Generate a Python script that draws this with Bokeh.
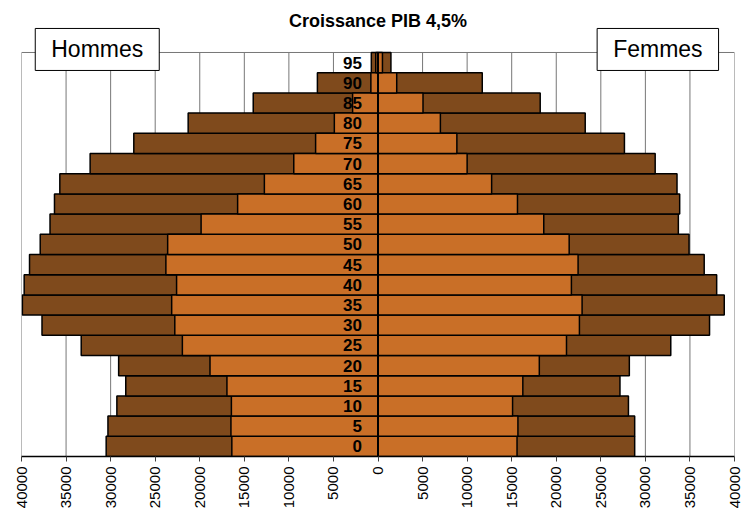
import math
from bokeh.plotting import figure
from bokeh.models import (ColumnDataSource, FixedTicker, CustomJSTickFormatter,
                          Range1d, Label)
from bokeh.core.properties import value
from bokeh.embed import file_html
from bokeh.resources import INLINE

# ---- data ----
ages = [0, 5, 10, 15, 20, 25, 30, 35, 40, 45, 50, 55, 60, 65, 70, 75, 80, 85, 90, 95]
age_labels = [str(a) for a in ages]
hommes_total = [30500, 30300, 29300, 28300, 29100, 33300, 37700, 39900, 39700, 39100,
                37900, 36800, 36300, 35700, 32300, 27400, 21300, 14000, 6800, 750]
hommes_base = [16400, 16500, 16450, 16950, 18850, 21950, 22800, 23150, 22600, 23800,
               23600, 19850, 15750, 12750, 9450, 7000, 4900, 2850, 800, 250]
femmes_total = [28800, 28800, 28100, 27150, 28200, 32850, 37200, 38850, 38000, 36600,
                34900, 33700, 33850, 33550, 31100, 27650, 23250, 18200, 11700, 1450]
femmes_base = [15600, 15700, 15100, 16250, 18100, 21150, 22600, 22900, 21700, 22450,
               21450, 18600, 15650, 12750, 10000, 8850, 7000, 5050, 2100, 500]
x_ticks = list(range(-40000, 40001, 5000))
title_text = "Croissance PIB 4,5%"
left_name = "Hommes"
right_name = "Femmes"

DARK = "#7F4A1C"
ORANGE = "#C96F27"
GRID = "#777777"
FONT = "Liberation Sans"

Y_LO, Y_HI = -2.5, 97.5          # extent of the age bands
TOP_PAD = 11.63                   # room above the bands for title and name boxes

src = ColumnDataSource(dict(
    age=ages, label=age_labels,
    h_tot=[-v for v in hommes_total], h_base=[-v for v in hommes_base],
    f_tot=femmes_total, f_base=femmes_base,
    zero=[0] * len(ages), lab_x=[-1800] * len(ages),
))
grid_src = ColumnDataSource(dict(x=x_ticks, y0=[Y_LO] * len(x_ticks),
                                 y1=[Y_HI] * len(x_ticks)))

p = figure(width=743, height=512, output_backend="svg", toolbar_location=None,
           x_range=Range1d(-40000, 40000), y_range=Range1d(Y_LO, Y_HI + TOP_PAD),
           y_axis_location=None, min_border_left=21, min_border_right=9,
           min_border_top=5, min_border_bottom=56)
p.background_fill_color = "white"
p.border_fill_color = "white"
p.outline_line_color = None
p.xgrid.grid_line_color = None
p.ygrid.grid_line_color = None

ticker = FixedTicker(ticks=x_ticks)
p.xaxis.ticker = ticker
p.xaxis.formatter = CustomJSTickFormatter(code="return Math.abs(tick).toString();")
p.xaxis.major_label_orientation = math.pi / 2
p.xaxis.major_label_text_font = FONT
p.xaxis.major_label_text_font_size = "15px"
p.xaxis.major_label_text_color = "black"
p.xaxis.major_label_standoff = 5
p.xaxis.major_tick_out = 5
p.xaxis.major_tick_in = 0
p.xaxis.major_tick_line_color = "#404040"
p.xaxis.minor_tick_line_color = None
p.xaxis.axis_line_color = "black"
p.xaxis.axis_line_width = 1.5

# vertical grid lines (the outer two form the frame) and top frame line
p.segment(x0="x", y0="y0", x1="x", y1="y1", source=grid_src,
          line_color=GRID, line_width=1)
p.segment(x0=[x_ticks[0]], y0=[Y_HI], x1=[x_ticks[-1]], y1=[Y_HI],
          line_color=GRID, line_width=1)

# bars
p.hbar(y="age", left="h_tot", right="zero", height=5, source=src,
       fill_color=DARK, line_color="black", line_width=1.5)
p.hbar(y="age", left="zero", right="f_tot", height=5, source=src,
       fill_color=DARK, line_color="black", line_width=1.5)
p.hbar(y="age", left="h_base", right="zero", height=5, source=src,
       fill_color=ORANGE, line_color="black", line_width=1.5)
p.hbar(y="age", left="zero", right="f_base", height=5, source=src,
       fill_color=ORANGE, line_color="black", line_width=1.5)

# zero line
p.segment(x0=[0], y0=[Y_LO], x1=[0], y1=[Y_HI], line_color="black", line_width=2)

p.text(x="lab_x", y="age", text="label", source=src, text_align="right",
       text_baseline="middle", text_font=value(FONT), text_font_size="17px",
       text_font_style="bold", text_color="black")

# title and side names
p.add_layout(Label(x=0, y=105.3, text=title_text, text_align="center",
                   text_baseline="middle", text_font=FONT, text_font_size="18px",
                   text_font_style="bold", text_color="black"))
for nm, xx in ((left_name, -31500), (right_name, 31400)):
    p.add_layout(Label(x=xx, y=98.25, text=nm, text_align="center",
                       text_baseline="middle", text_font=FONT, text_font_size="23px",
                       text_color="black", background_fill_color="white",
                       border_line_color="black", border_line_width=1,
                       padding=dict(left=16, right=16, top=8, bottom=8)))

open("out.html", "w").write(file_html(p, INLINE))
